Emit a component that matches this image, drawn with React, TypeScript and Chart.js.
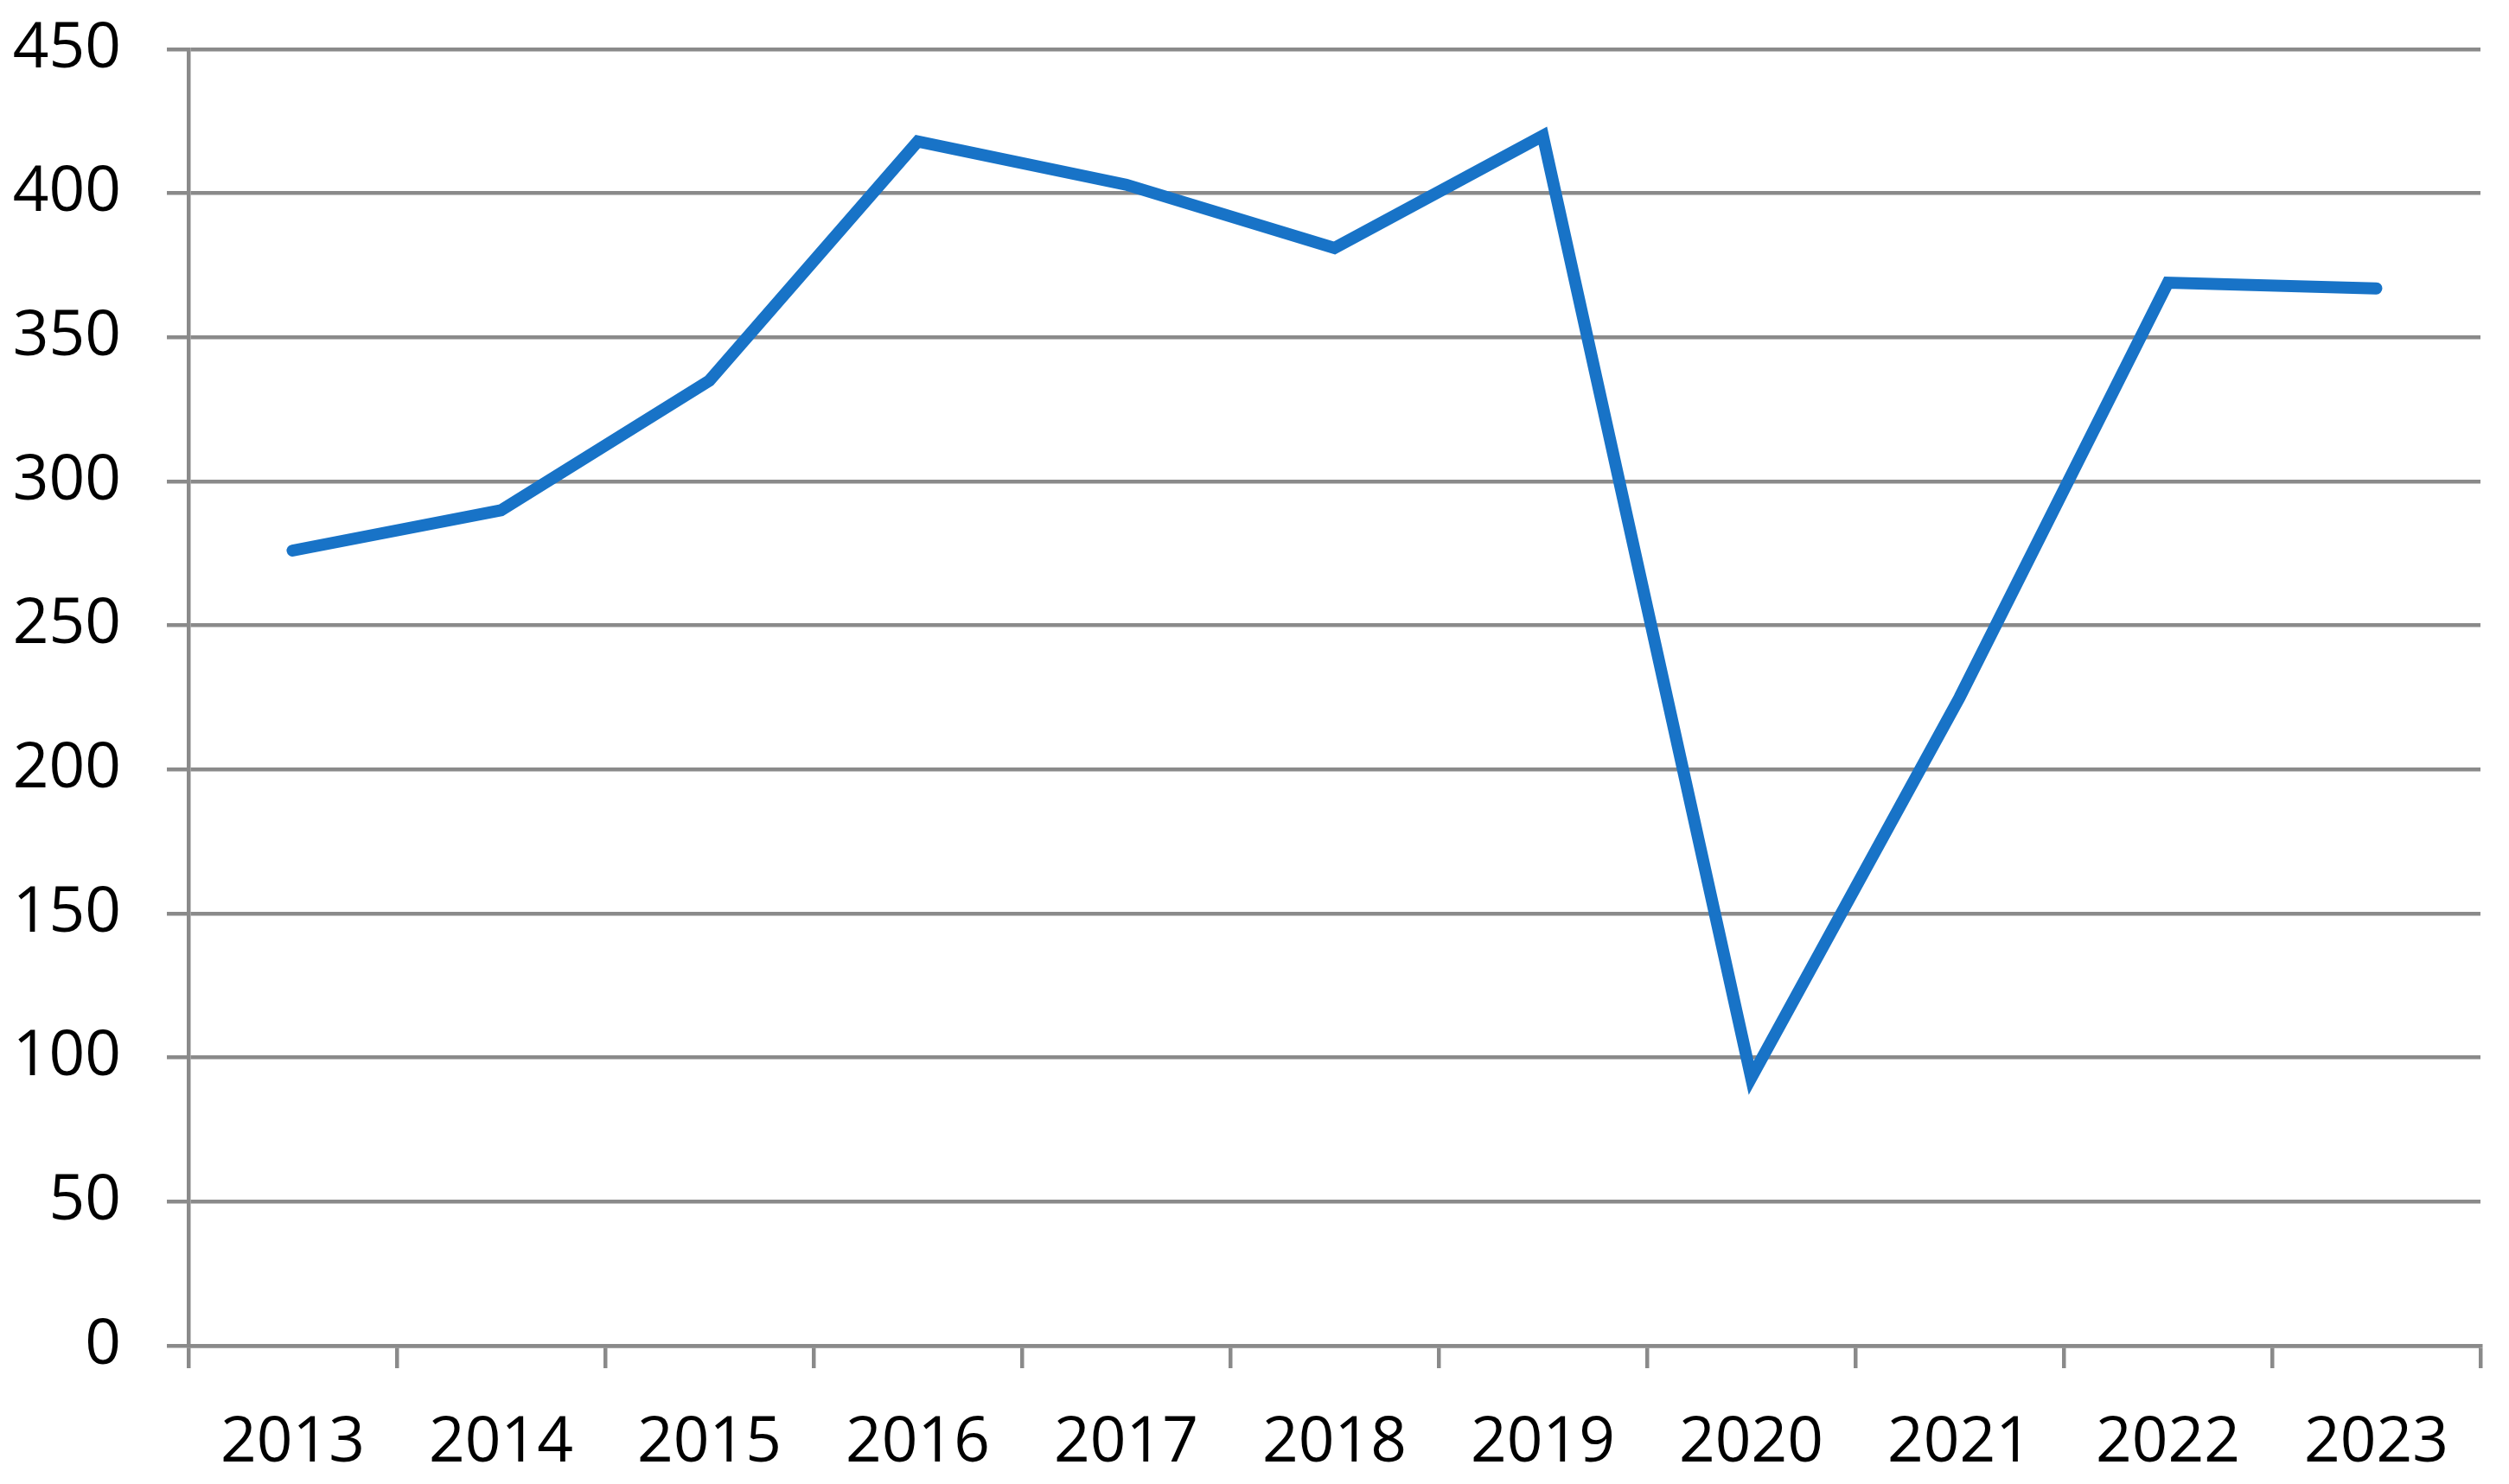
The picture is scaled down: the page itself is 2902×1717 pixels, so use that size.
import React, { useEffect, useRef } from "react";
import { Chart, registerables } from "chart.js";

Chart.register(...registerables);

const categories = ["2013", "2014", "2015", "2016", "2017", "2018", "2019", "2020", "2021", "2022", "2023"];
const seriesValues = [276, 290, 335, 418, 403, 381, 420, 93, 225, 369, 367];
const yMin = 0;
const yMax = 450;
const yStep = 50;

const GRAY = "#8a8a8a";
const BLUE = "#1873C7";
const FONT = "'Open Sans', sans-serif";

export default function App() {
  const ref = useRef<HTMLCanvasElement | null>(null);

  useEffect(() => {
    const canvas = ref.current;
    if (!canvas) return;
    const chart = new Chart(canvas, {
      type: "line",
      data: {
        labels: categories,
        datasets: [
          {
            data: seriesValues,
            borderColor: BLUE,
            backgroundColor: BLUE,
            borderWidth: 14,
            pointRadius: 0,
            tension: 0,
            borderCapStyle: "round",
            borderJoinStyle: "miter",
            fill: false,
          },
        ],
      },
      options: {
        responsive: false,
        animation: false,
        layout: { padding: { top: 57, right: 33, left: 0, bottom: 0 } },
        plugins: { legend: { display: false }, tooltip: { enabled: false } },
        scales: {
          x: {
            type: "category",
            offset: true,
            grid: {
              offset: true,
              drawOnChartArea: false,
              drawTicks: true,
              tickLength: 26,
              color: GRAY,
              lineWidth: 4.5,
            },
            border: { display: true, color: GRAY, width: 4.5 },
            ticks: {
              color: "#000",
              font: { family: FONT, size: 73 },
              padding: 43,
              maxRotation: 0,
              autoSkip: false,
            },
            afterFit: (scale: any) => {
              scale.height = 160;
              scale.paddingLeft = 0;
              scale.paddingRight = 0;
            },
          },
          y: {
            min: yMin,
            max: yMax,
            grid: {
              color: GRAY,
              lineWidth: 4.5,
              drawTicks: true,
              tickLength: 25,
            },
            border: { display: true, color: GRAY, width: 4.5 },
            ticks: {
              stepSize: yStep,
              color: "#000",
              font: { family: FONT, size: 73 },
              padding: 53,
            },
            afterFit: (scale: any) => {
              scale.width = 218;
              scale.paddingTop = 0;
              scale.paddingBottom = 0;
            },
          },
        },
      },
    });
    return () => chart.destroy();
  }, []);

  return (
    <div style={{ position: "absolute", left: 0, top: 0, width: 2902, height: 1717, background: "#fff" }}>
      <canvas ref={ref} width={2902} height={1717} style={{ display: "block", width: 2902, height: 1717 }} />
    </div>
  );
}
